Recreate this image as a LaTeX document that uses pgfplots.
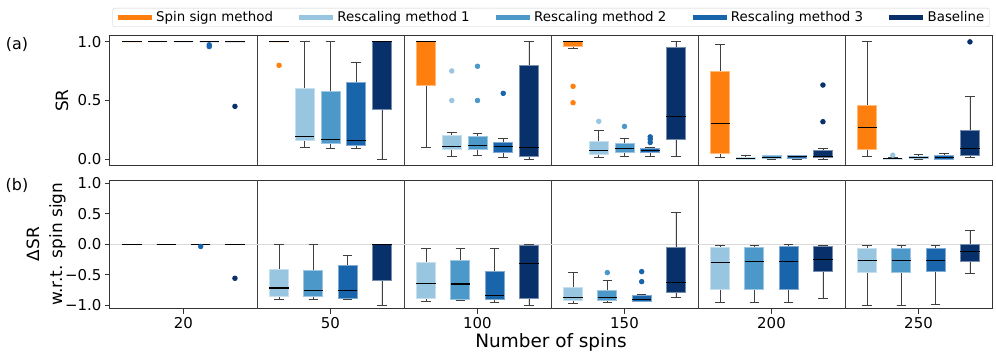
\documentclass[border=0pt]{standalone}
\usepackage{fontspec}
\setmainfont{DejaVu Sans}
\usepackage{pgfplots}
\pgfplotsset{compat=1.18}
\usepgfplotslibrary{statistics}

\definecolor{cS}{RGB}{255,127,14}
\definecolor{cA}{RGB}{152,198,225}
\definecolor{cB}{RGB}{75,152,201}
\definecolor{cC}{RGB}{24,101,172}
\definecolor{cD}{RGB}{8,48,107}

\pgfplotsset{
  bx/.style={forget plot, solid, fill=#1, draw=#1!55!white, line width=0.8bp,
    mark=*, mark size=2.3bp, mark options={fill=#1, draw=#1, solid},
    boxplot/draw direction=y,
    boxplot/box extend=0.13, boxplot/whisker extend=0.065,
    boxplot/every box/.style={fill=#1, draw=#1!55!white, line width=0.8bp},
    boxplot/every whisker/.style={draw=black!75, line width=0.9bp},
    boxplot/every median/.style={draw=black, line width=1.1bp}},
  wide line legend/.style={legend image code/.code={\draw[##1, line width=4.5bp] (0bp,0bp) -- (34bp,0bp);}},
  panel/.style={scale only axis, width=882bp, xmin=-0.5, xmax=5.5,
    axis line style={black!80, line width=1bp},
    tick align=outside, major tick length=5bp,
    tick style={black!80, line width=0.9bp},
    ytick pos=left, xtick pos=bottom,
    tick label style={font=\fontsize{15}{15}\selectfont},
    label style={font=\fontsize{17}{23}\selectfont},
    extra x ticks={0.5,1.5,2.5,3.5,4.5}, extra x tick labels={},
    extra x tick style={grid=major, major grid style={black!75, line width=0.8bp}, major tick length=0pt}},
}

% colour, position, lower whisker, Q1, median, Q3, upper whisker, outliers
\newcommand{\bx}[8]{\addplot[bx=#1, boxplot prepared={draw position=#2,
  lower whisker=#3, lower quartile=#4, median=#5, upper quartile=#6, upper whisker=#7}]
  coordinates {#8};}

\begin{document}
\begin{tikzpicture}
\begin{axis}[panel, name=top, height=129bp,
  ymin=-0.05, ymax=1.05, ytick={0,0.5,1}, yticklabels={0.0,0.5,1.0},
  xtick=\empty,
  ylabel={SR}, ylabel style={at={(axis description cs:-0.0544,0.5)}, anchor=center},
  legend columns=5,
  legend style={at={(0.5,1)}, anchor=south, yshift=9bp, draw=black!20, rounded corners=2bp,
    font=\fontsize{13.4}{15}\selectfont, inner xsep=3bp, inner ysep=1.5bp,
    /tikz/every even column/.append style={column sep=22bp}},
]
\addlegendimage{draw=cS, wide line legend}\addlegendentry{Spin sign method}
\addlegendimage{draw=cA, wide line legend}\addlegendentry{Rescaling method 1}
\addlegendimage{draw=cB, wide line legend}\addlegendentry{Rescaling method 2}
\addlegendimage{draw=cC, wide line legend}\addlegendentry{Rescaling method 3}
\addlegendimage{draw=cD, wide line legend}\addlegendentry{Baseline}
% 20 spins
\bx{cS}{-0.35}{1}{1}{1}{1}{1}{}
\bx{cA}{-0.175}{1}{1}{1}{1}{1}{}
\bx{cB}{0}{1}{1}{1}{1}{1}{}
\bx{cC}{0.175}{1}{1}{1}{1}{1}{(0,0.975) (0,0.96)}
\bx{cD}{0.35}{1}{1}{1}{1}{1}{(0,0.45)}
% 50 spins
\bx{cS}{0.65}{1}{1}{1}{1}{1}{(0,0.80)}
\bx{cA}{0.825}{0.10}{0.162}{0.194}{0.60}{1.0}{}
\bx{cB}{1}{0.091}{0.131}{0.171}{0.58}{1.0}{}
\bx{cC}{1.175}{0.091}{0.114}{0.157}{0.655}{0.823}{}
\bx{cD}{1.35}{0.0}{0.42}{1.0}{1.0}{1.0}{}
% 100 spins
\bx{cS}{1.65}{0.10}{0.632}{1.0}{1.0}{1.0}{}
\bx{cA}{1.825}{0.02}{0.08}{0.105}{0.205}{0.231}{(0,0.752) (0,0.50)}
\bx{cB}{2}{0.031}{0.085}{0.114}{0.197}{0.222}{(0,0.792) (0,0.50)}
\bx{cC}{2.175}{0.011}{0.057}{0.111}{0.14}{0.179}{(0,0.561)}
\bx{cD}{2.35}{0.0}{0.026}{0.10}{0.80}{1.0}{}
% 150 spins
\bx{cS}{2.65}{0.946}{0.96}{1.0}{1.0}{1.0}{(0,0.621) (0,0.481)}
\bx{cA}{2.825}{0.011}{0.043}{0.071}{0.151}{0.242}{(0,0.322)}
\bx{cB}{3}{0.02}{0.054}{0.094}{0.131}{0.179}{(0,0.279)}
\bx{cC}{3.175}{0.02}{0.054}{0.077}{0.09}{0.097}{(0,0.19) (0,0.171) (0,0.142)}
\bx{cD}{3.35}{0.02}{0.171}{0.365}{0.954}{1.0}{}
% 200 spins
\bx{cS}{3.65}{0.011}{0.051}{0.305}{0.749}{0.974}{}
\bx{cA}{3.825}{0.0}{0.0}{0.006}{0.017}{0.028}{}
\bx{cB}{4}{0.0}{0.003}{0.017}{0.028}{0.03}{}
\bx{cC}{4.175}{0.0}{0.006}{0.02}{0.028}{0.03}{}
\bx{cD}{4.35}{0.0}{0.011}{0.023}{0.074}{0.094}{(0,0.632) (0,0.319)}
% 250 spins
\bx{cS}{4.65}{0.02}{0.08}{0.271}{0.462}{1.0}{}
\bx{cA}{4.825}{0.0}{0.0}{0.006}{0.009}{0.012}{(0,0.034)}
\bx{cB}{5}{0.0}{0.003}{0.011}{0.023}{0.04}{}
\bx{cC}{5.175}{0.0}{0.0}{0.017}{0.034}{0.051}{}
\bx{cD}{5.35}{0.011}{0.028}{0.088}{0.242}{0.533}{(0,1.0)}
\end{axis}

\begin{axis}[panel, name=bot, height=128.5bp,
  at={(top.south west)}, anchor=north west, yshift=-15bp,
  ymin=-1.05, ymax=1.05, ytick={-1,-0.5,0,0.5,1},
  yticklabels={−1.0,−0.5,0.0,0.5,1.0},
  xtick={0,1,2,3,4,5}, xticklabels={20,50,100,150,200,250},
  xlabel={Number of spins},
  xlabel style={at={(axis description cs:0.5,0)}, anchor=base, yshift=-39bp,
    font=\fontsize{18.5}{20}\selectfont},
  ylabel={ΔSR\\w.r.t. spin sign},
  ylabel style={align=center, at={(axis description cs:-0.0725,0.5)}, anchor=center},
]
\addplot[forget plot, black!15, line width=1.3bp] coordinates {(-0.5,0) (5.5,0)};
% 20 spins
\bx{cA}{-0.35}{0}{0}{0}{0}{0}{}
\bx{cB}{-0.117}{0}{0}{0}{0}{0}{}
\bx{cC}{0.117}{0}{0}{0}{0}{0}{(0,-0.036)}
\bx{cD}{0.35}{0}{0}{0}{0}{0}{(0,-0.556)}
% 50 spins
\bx{cA}{0.65}{-0.90}{-0.847}{-0.715}{-0.41}{0.0}{}
\bx{cB}{0.883}{-0.91}{-0.858}{-0.754}{-0.43}{0.0}{}
\bx{cC}{1.117}{-0.91}{-0.885}{-0.754}{-0.343}{-0.184}{}
\bx{cD}{1.35}{-0.995}{-0.59}{0}{0}{0}{}
% 100 spins
\bx{cA}{1.65}{-0.93}{-0.885}{-0.64}{-0.299}{-0.063}{}
\bx{cB}{1.883}{-0.92}{-0.896}{-0.65}{-0.266}{-0.063}{}
\bx{cC}{2.117}{-0.946}{-0.896}{-0.84}{-0.447}{-0.074}{}
\bx{cD}{2.35}{-0.995}{-0.88}{-0.31}{-0.013}{0.0}{}
% 150 spins
\bx{cA}{2.65}{-0.967}{-0.92}{-0.863}{-0.705}{-0.463}{}
\bx{cB}{2.883}{-0.957}{-0.92}{-0.863}{-0.754}{-0.595}{(0,-0.463)}
\bx{cC}{3.117}{-0.94}{-0.93}{-0.9}{-0.836}{-0.825}{(0,-0.447) (0,-0.611)}
\bx{cD}{3.35}{-0.863}{-0.786}{-0.622}{-0.046}{0.523}{}
% 200 spins
\bx{cA}{3.65}{-0.95}{-0.732}{-0.299}{-0.046}{-0.013}{}
\bx{cB}{3.883}{-0.95}{-0.732}{-0.288}{-0.046}{-0.013}{}
\bx{cC}{4.117}{-0.95}{-0.732}{-0.288}{-0.04}{0.0}{}
\bx{cD}{4.35}{-0.885}{-0.447}{-0.25}{-0.04}{-0.013}{}
% 250 spins
\bx{cA}{4.65}{-0.995}{-0.452}{-0.271}{-0.069}{-0.018}{}
\bx{cB}{4.883}{-0.995}{-0.455}{-0.271}{-0.069}{-0.018}{}
\bx{cC}{5.117}{-0.984}{-0.447}{-0.26}{-0.069}{-0.018}{}
\bx{cD}{5.35}{-0.474}{-0.283}{-0.118}{-0.008}{0.227}{}
\end{axis}

\node[font=\fontsize{16}{16}\selectfont] at ([shift={(-93bp,-9bp)}]top.north west) {(a)};
\node[font=\fontsize{16}{16}\selectfont] at ([shift={(-93bp,-5bp)}]bot.north west) {(b)};

\pgfresetboundingbox
\path ([shift={(-110bp,36bp)}]top.north west) rectangle ([shift={(886bp,-321bp)}]top.north west);
\end{tikzpicture}
\end{document}
